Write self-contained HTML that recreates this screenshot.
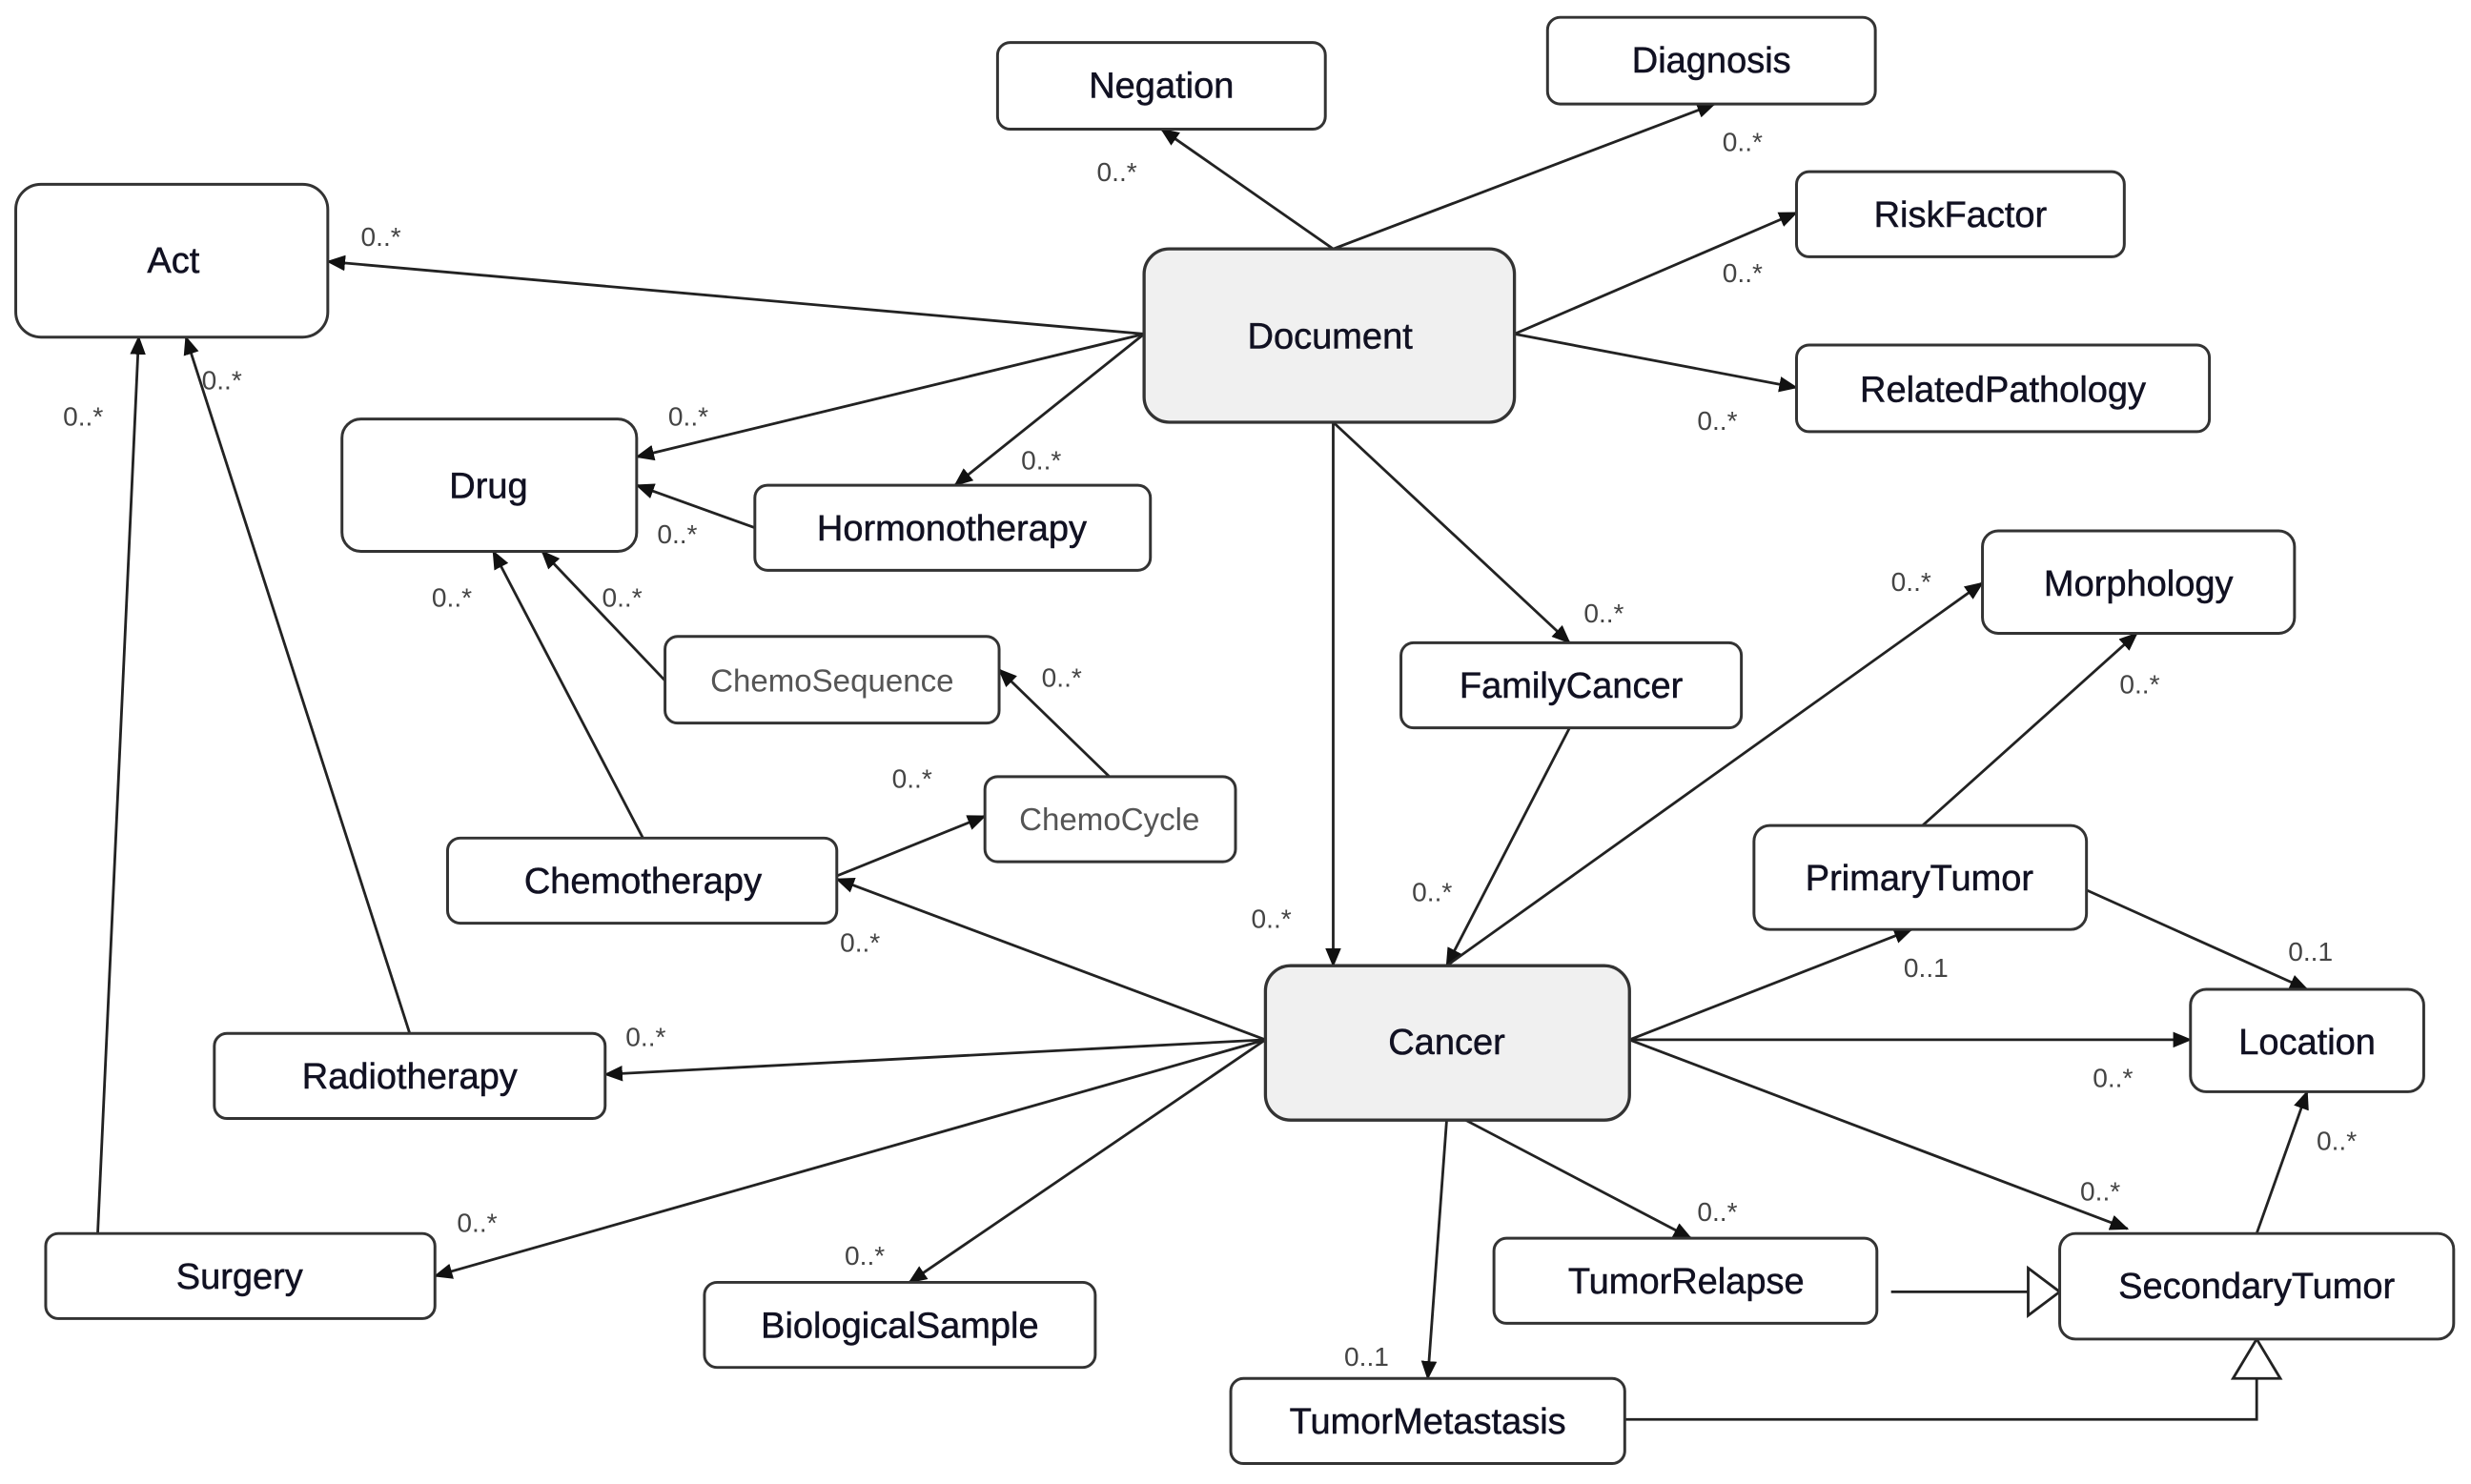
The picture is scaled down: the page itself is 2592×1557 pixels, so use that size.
<!DOCTYPE html>
<html><head><meta charset="utf-8"><style>
html,body{margin:0;padding:0;background:#fff;}
svg{display:block;}
.b{fill:#fff;stroke:#333;stroke-width:1.8;}
.g{fill:#f0f0f0;stroke:#333;stroke-width:2;}
.t{font-family:"Liberation Sans",sans-serif;font-size:23px;fill:#111122;stroke:#111122;stroke-width:0.3;text-anchor:middle;}
.s{font-family:"Liberation Sans",sans-serif;font-size:20px;fill:#555;text-anchor:middle;}
.m{font-family:"Liberation Sans",sans-serif;font-size:17px;fill:#444;}
.l{stroke:#222;stroke-width:1.7;fill:none;}
</style></head><body>
<svg width="2592" height="1557" viewBox="0 0 1568 942" preserveAspectRatio="none" xmlns="http://www.w3.org/2000/svg">
<defs>
<marker id="a" markerWidth="12" markerHeight="10" refX="11" refY="5" orient="auto" markerUnits="userSpaceOnUse"><path d="M0,0 L12,5 L0,10 Z" fill="#111"/></marker>
</defs>
<g class="l" marker-end="url(#a)">
<line x1="846" y1="158" x2="737" y2="82"/>
<line x1="846" y1="158" x2="1088" y2="66"/>
<line x1="726" y1="212" x2="208" y2="166"/>
<line x1="726" y1="212" x2="404" y2="290"/>
<line x1="726" y1="212" x2="606" y2="308"/>
<line x1="961" y1="212" x2="1140" y2="135"/>
<line x1="961" y1="212" x2="1140" y2="246"/>
<line x1="846" y1="268" x2="846" y2="613"/>
<line x1="846" y1="268" x2="996" y2="408"/>
<line x1="479" y1="335" x2="404" y2="308"/>
<line x1="422" y1="432" x2="344" y2="350"/>
<line x1="704" y1="493" x2="634" y2="425"/>
<line x1="408" y1="532" x2="313" y2="350"/>
<line x1="531" y1="556" x2="625" y2="518"/>
<line x1="803" y1="660" x2="531" y2="558"/>
<line x1="803" y1="660" x2="384" y2="682"/>
<line x1="803" y1="660" x2="276" y2="810"/>
<line x1="803" y1="660" x2="577" y2="814"/>
<line x1="918" y1="711" x2="906" y2="875"/>
<line x1="930" y1="711" x2="1073" y2="786"/>
<line x1="1034" y1="660" x2="1390" y2="660"/>
<line x1="1034" y1="660" x2="1213" y2="590"/>
<line x1="1034" y1="660" x2="1350" y2="780"/>
<line x1="996" y1="462" x2="918" y2="613"/>
<line x1="918" y1="613" x2="1258" y2="370"/>
<line x1="1220" y1="524" x2="1356" y2="402"/>
<line x1="1324" y1="565" x2="1464" y2="628"/>
<line x1="1432" y1="783" x2="1464" y2="693"/>
<line x1="260" y1="656" x2="118" y2="214"/>
<line x1="62" y1="783" x2="88" y2="214"/>
</g>
<g class="l">
<line x1="1200" y1="820" x2="1287" y2="820"/>
<path d="M1287,805 L1307,820 L1287,835 Z" fill="#fff"/>
<polyline points="1031,901 1432,901 1432,875"/>
<path d="M1417,875 L1432,850 L1447,875 Z" fill="#fff"/>
</g>
<rect class="b" x="633" y="27" width="208" height="55" rx="8"/><text class="t" x="737" y="62">Negation</text>
<rect class="b" x="982" y="11" width="208" height="55" rx="8"/><text class="t" x="1086" y="46">Diagnosis</text>
<rect class="b" x="10" y="117" width="198" height="97" rx="16"/><text class="t" x="110" y="173">Act</text>
<rect class="g" x="726" y="158" width="235" height="110" rx="16"/><text class="t" x="844" y="221">Document</text>
<rect class="b" x="1140" y="109" width="208" height="54" rx="8"/><text class="t" x="1244" y="144">RiskFactor</text>
<rect class="b" x="1140" y="219" width="262" height="55" rx="8"/><text class="t" x="1271" y="255">RelatedPathology</text>
<rect class="b" x="217" y="266" width="187" height="84" rx="12"/><text class="t" x="310" y="316">Drug</text>
<rect class="b" x="479" y="308" width="251" height="54" rx="8"/><text class="t" x="604" y="343">Hormonotherapy</text>
<rect class="b" x="422" y="404" width="212" height="55" rx="8"/><text class="s" x="528" y="439">ChemoSequence</text>
<rect class="b" x="889" y="408" width="216" height="54" rx="8"/><text class="t" x="997" y="443">FamilyCancer</text>
<rect class="b" x="1258" y="337" width="198" height="65" rx="10"/><text class="t" x="1357" y="378">Morphology</text>
<rect class="b" x="625" y="493" width="159" height="54" rx="8"/><text class="s" x="704" y="527">ChemoCycle</text>
<rect class="b" x="284" y="532" width="247" height="54" rx="8"/><text class="t" x="408" y="567">Chemotherapy</text>
<rect class="b" x="1113" y="524" width="211" height="66" rx="10"/><text class="t" x="1218" y="565">PrimaryTumor</text>
<rect class="g" x="803" y="613" width="231" height="98" rx="16"/><text class="t" x="918" y="669">Cancer</text>
<rect class="b" x="1390" y="628" width="148" height="65" rx="10"/><text class="t" x="1464" y="669">Location</text>
<rect class="b" x="136" y="656" width="248" height="54" rx="8"/><text class="t" x="260" y="691">Radiotherapy</text>
<rect class="b" x="29" y="783" width="247" height="54" rx="8"/><text class="t" x="152" y="818">Surgery</text>
<rect class="b" x="447" y="814" width="248" height="54" rx="8"/><text class="t" x="571" y="849">BiologicalSample</text>
<rect class="b" x="948" y="786" width="243" height="54" rx="8"/><text class="t" x="1070" y="821">TumorRelapse</text>
<rect class="b" x="1307" y="783" width="250" height="67" rx="10"/><text class="t" x="1432" y="824">SecondaryTumor</text>
<rect class="b" x="781" y="875" width="250" height="54" rx="8"/><text class="t" x="906" y="910">TumorMetastasis</text>
<g class="m">
<text x="696" y="115">0..*</text>
<text x="1093" y="96">0..*</text>
<text x="229" y="156">0..*</text>
<text x="1093" y="179">0..*</text>
<text x="1077" y="273">0..*</text>
<text x="424" y="270">0..*</text>
<text x="648" y="298">0..*</text>
<text x="40" y="270">0..*</text>
<text x="128" y="247">0..*</text>
<text x="417" y="345">0..*</text>
<text x="274" y="385">0..*</text>
<text x="382" y="385">0..*</text>
<text x="1005" y="395">0..*</text>
<text x="1200" y="375">0..*</text>
<text x="661" y="436">0..*</text>
<text x="1345" y="440">0..*</text>
<text x="566" y="500">0..*</text>
<text x="533" y="604">0..*</text>
<text x="896" y="572">0..*</text>
<text x="794" y="589">0..*</text>
<text x="1208" y="620">0..1</text>
<text x="1452" y="610">0..1</text>
<text x="397" y="664">0..*</text>
<text x="1328" y="690">0..*</text>
<text x="1470" y="730">0..*</text>
<text x="1320" y="762">0..*</text>
<text x="1077" y="775">0..*</text>
<text x="290" y="782">0..*</text>
<text x="536" y="803">0..*</text>
<text x="853" y="867">0..1</text>
</g>
</svg>
</body></html>
